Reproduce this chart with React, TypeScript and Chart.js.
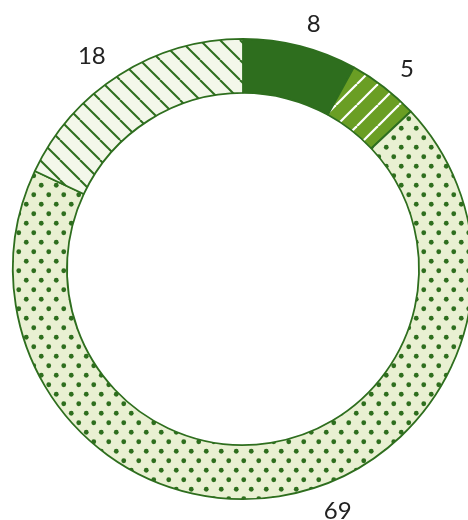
import React, { useEffect, useRef } from "react";
import { Chart, registerables } from "chart.js";

Chart.register(...registerables);

const categories = ["A", "B", "C", "D"];
const values = [8, 5, 69, 18];
const labelTexts = ["8", "5", "69", "18"];

const DARK = "#2e6e1e";
const MID = "#6a9e24";
const LIGHT_DOT_BG = "#e9f0d2";
const LIGHT_STRIPE_BG = "#f3f7ea";

function makePattern(kind: string): CanvasPattern | string {
  const c = document.createElement("canvas");
  const ctx = c.getContext("2d")!;
  if (kind === "dots") {
    c.width = 15;
    c.height = 19;
    ctx.fillStyle = LIGHT_DOT_BG;
    ctx.fillRect(0, 0, 15, 19);
    ctx.fillStyle = DARK;
    ctx.beginPath();
    ctx.arc(3.75, 4.75, 2.4, 0, Math.PI * 2);
    ctx.fill();
    ctx.beginPath();
    ctx.arc(11.25, 14.25, 2.4, 0, Math.PI * 2);
    ctx.fill();
  } else if (kind === "white") {
    const s = 21;
    c.width = s;
    c.height = s;
    ctx.fillStyle = MID;
    ctx.fillRect(0, 0, s, s);
    ctx.strokeStyle = "#ffffff";
    ctx.lineWidth = 2.2;
    for (const o of [-s, 0, s]) {
      ctx.beginPath();
      ctx.moveTo(o, s);
      ctx.lineTo(o + s, 0);
      ctx.stroke();
    }
  } else {
    const s = 20;
    c.width = s;
    c.height = s;
    ctx.fillStyle = LIGHT_STRIPE_BG;
    ctx.fillRect(0, 0, s, s);
    ctx.strokeStyle = DARK;
    ctx.lineWidth = 2;
    for (const o of [-s, 0, s]) {
      ctx.beginPath();
      ctx.moveTo(o, 0);
      ctx.lineTo(o + s, s);
      ctx.stroke();
    }
  }
  return ctx.createPattern(c, "repeat")!;
}

const labelPlugin = {
  id: "outerLabels",
  afterDatasetsDraw(chart: any) {
    const ctx = chart.ctx;
    const meta = chart.getDatasetMeta(0);
    const H = chart.height;
    ctx.save();
    ctx.font = "24px Lato";
    ctx.fillStyle = "#222222";
    ctx.textBaseline = "middle";
    meta.data.forEach((arc: any, i: number) => {
      const mid = (arc.startAngle + arc.endAngle) / 2;
      const r = arc.outerRadius + 26;
      const right = Math.cos(mid) >= 0;
      let x = arc.x + Math.cos(mid) * r;
      let y = arc.y + Math.sin(mid) * r;
      const maxY = H - 8;
      if (y > maxY) {
        const dy = maxY - arc.y;
        const dx = Math.sqrt(Math.max(r * r - dy * dy, 0));
        y = maxY;
        x = arc.x + (right ? dx : -dx);
      }
      y = Math.min(y + 3, H - 9);
      ctx.textAlign = right ? "left" : "right";
      ctx.fillText(labelTexts[i], x, y);
    });
    ctx.restore();
  },
};

export default function App() {
  const ref = useRef<HTMLCanvasElement>(null);
  useEffect(() => {
    if (!ref.current) return;
    const chart = new Chart(ref.current, {
      type: "doughnut",
      data: {
        labels: categories,
        datasets: [
          {
            data: values,
            backgroundColor: [DARK, makePattern("white"), makePattern("dots"), makePattern("stripes")] as any,
            borderColor: DARK,
            borderWidth: 1.8,
          },
        ],
      },
      options: {
        animation: false,
        responsive: false,
        cutout: "76.5%",
        layout: { padding: { top: 38, bottom: 20, left: 12, right: 12 } },
        plugins: { legend: { display: false }, tooltip: { enabled: false } },
      },
      plugins: [labelPlugin],
    });
    return () => chart.destroy();
  }, []);
  return (
    <div style={{ position: "absolute", left: 0, top: 0, width: 468, height: 520, overflow: "hidden" }}>
      <canvas ref={ref} width={486} height={520} style={{ display: "block", width: 486, height: 520 }} />
    </div>
  );
}
